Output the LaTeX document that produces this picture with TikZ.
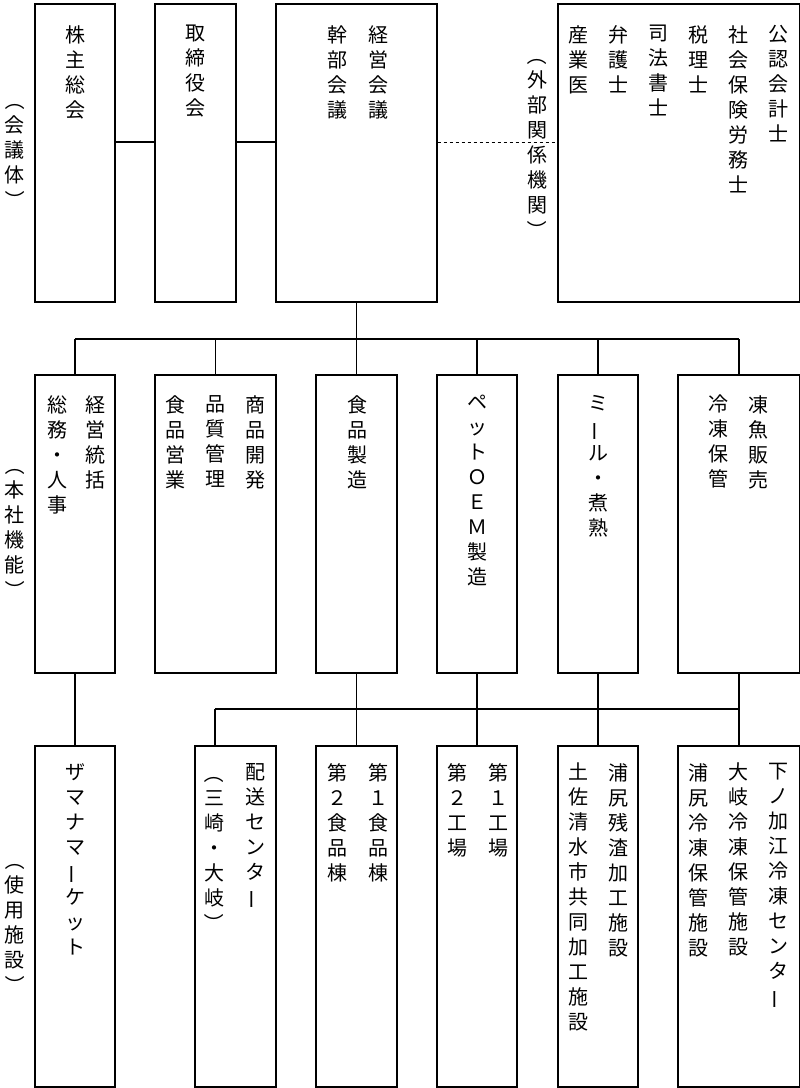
\documentclass[tikz,border=0pt]{standalone}
\usepackage{fontspec}
\setmainfont{Noto Sans CJK JP}
\usetikzlibrary{positioning}

% vertical forms
\newcommand\vbar{\rotatebox[origin=c]{90}{ー}}
\newcommand\vlp{\rotatebox[origin=c]{-90}{（}}
\newcommand\vrp{\rotatebox[origin=c]{-90}{）}}

\tikzset{
  unit/.style={draw, line width=1.2pt, inner sep=0pt},
  col/.style={anchor=north, inner sep=0pt, align=center,
    font=\fontsize{20}{25}\selectfont},
  link/.style={line width=1.2pt}
}

\begin{document}
\begin{tikzpicture}[x=1pt, y=-1pt]
  \useasboundingbox (0,0) rectangle (800,1088);

  % ---- row 1
  \node[unit, minimum width=80, minimum height=298] (kabu)  at (75,153)    {};
  \node[unit, minimum width=81, minimum height=298] (tori)  at (195.5,153) {};
  \node[unit, minimum width=161, minimum height=298] (keiei) at (356.5,153) {};
  \node[unit, minimum width=242, minimum height=298] (gaibu) at (679,153)   {};

  \node[col] (t-kabu) at (75,25)  {株\\主\\総\\会};
  \node[col] (t-tori) at (195,25) {取\\締\\役\\会};
  \node[col] (t-kei1) at (378,25) {経\\営\\会\\議};
  \node[col] (t-kei2) at (337,25) {幹\\部\\会\\議};
  \node[col] (t-g1) at (778,25) {公\\認\\会\\計\\士};
  \node[col] (t-g2) at (738,25) {社\\会\\保\\険\\労\\務\\士};
  \node[col] (t-g3) at (698,25) {税\\理\\士};
  \node[col] (t-g4) at (658,25) {司\\法\\書\\士};
  \node[col] (t-g5) at (618,25) {弁\\護\\士};
  \node[col] (t-g6) at (578,25) {産\\業\\医};

  \node[col] (lbl-gai) at (537,45) {\vlp\\外\\部\\関\\係\\機\\関\\\vrp};
  \node[col] (lbl-kai) at (15,90)  {\vlp\\会\\議\\体\\\vrp};

  \coordinate (h1) at (0,142);
  \draw[link] (kabu.east |- h1) -- (tori.west |- h1);
  \draw[link] (tori.east |- h1) -- (keiei.west |- h1);
  \draw[link, dashed, line width=0.8pt] (keiei.east |- h1) -- (gaibu.west |- h1);

  % ---- row 2
  \node[unit, minimum width=80, minimum height=298]  (soumu) at (75,524)    {};
  \node[unit, minimum width=121, minimum height=298] (shohin) at (215.5,524) {};
  \node[unit, minimum width=81, minimum height=298]  (seizo) at (356.5,524)  {};
  \node[unit, minimum width=80, minimum height=298]  (pet)   at (477,524)    {};
  \node[unit, minimum width=80, minimum height=298]  (meal)  at (598,524)    {};
  \node[unit, minimum width=122, minimum height=298] (tou)   at (739,524)    {};

  \node[col] at (95,395)  {経\\営\\統\\括};
  \node[col] at (57,395)  {総\\務\\・\\人\\事};
  \node[col] at (255,395) {商\\品\\開\\発};
  \node[col] at (215,395) {品\\質\\管\\理};
  \node[col] at (175,395) {食\\品\\営\\業};
  \node[col] at (357,395) {食\\品\\製\\造};
  \node[col] at (477,395) {ペ\\ッ\\ト\\Ｏ\\Ｅ\\Ｍ\\製\\造};
  \node[col] at (598,395) {ミ\\\vbar\\ル\\・\\煮\\熟};
  \node[col] at (758,395) {凍\\魚\\販\\売};
  \node[col] at (718,395) {冷\\凍\\保\\管};

  \node[col] (lbl-hon) at (15,455) {\vlp\\本\\社\\機\\能\\\vrp};

  \coordinate (bar1) at (0,339);
  \draw[link] (keiei.south) -- (keiei.south |- bar1);
  \draw[link] (soumu.north |- bar1) -- (tou.north |- bar1);
  \foreach \n in {soumu, shohin, seizo, pet, meal, tou}
    \draw[link] (\n.north |- bar1) -- (\n.north);

  % ---- row 3
  \node[unit, minimum width=80, minimum height=341] (zamana) at (75,916.5)   {};
  \node[unit, minimum width=81, minimum height=341] (haiso)  at (235.5,916.5) {};
  \node[unit, minimum width=81, minimum height=341] (shoku)  at (356.5,916.5) {};
  \node[unit, minimum width=80, minimum height=341] (koujo)  at (477,916.5)   {};
  \node[unit, minimum width=80, minimum height=341] (ura)    at (598,916.5)   {};
  \node[unit, minimum width=122, minimum height=341] (reito) at (739,916.5)   {};

  \node[col] at (75,763)  {ザ\\マ\\ナ\\マ\\\vbar\\ケ\\ッ\\ト};
  \node[col] at (255,763) {配\\送\\セ\\ン\\タ\\\vbar};
  \node[col] at (214,763) {\vlp\\三\\崎\\・\\大\\岐\\\vrp};
  \node[col] at (378,763) {第\\１\\食\\品\\棟};
  \node[col] at (337,763) {第\\２\\食\\品\\棟};
  \node[col] at (498,763) {第\\１\\工\\場};
  \node[col] at (457,763) {第\\２\\工\\場};
  \node[col] at (618,763) {浦\\尻\\残\\渣\\加\\工\\施\\設};
  \node[col] at (578,763) {土\\佐\\清\\水\\市\\共\\同\\加\\工\\施\\設};
  \node[col] at (778,763) {下\\ノ\\加\\江\\冷\\凍\\セ\\ン\\タ\\\vbar};
  \node[col] at (738,763) {大\\岐\\冷\\凍\\保\\管\\施\\設};
  \node[col] at (698,763) {浦\\尻\\冷\\凍\\保\\管\\施\\設};

  \node[col] (lbl-shi) at (15,850) {\vlp\\使\\用\\施\\設\\\vrp};

  \coordinate (bar2) at (215,709);
  \draw[link] (soumu.south) -- (zamana.north);
  \draw[link] (bar2) -- (tou.south |- bar2);
  \draw[link] (bar2) -- (bar2 |- haiso.north);
  \foreach \n in {seizo, pet, meal, tou}
    \draw[link] (\n.south) -- (\n.south |- bar2);
  \foreach \n/\m in {seizo/shoku, pet/koujo, meal/ura, tou/reito}
    \draw[link] (\n.south |- bar2) -- (\m.north);
\end{tikzpicture}
\end{document}
